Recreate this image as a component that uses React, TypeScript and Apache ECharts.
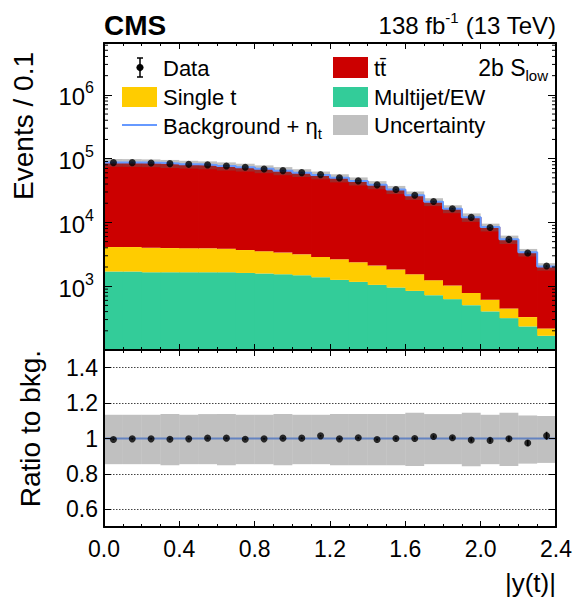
import React, { useEffect, useRef } from "react";
import * as echarts from "echarts";

// ---------- data ----------
const binEdges = [0, 0.1, 0.2, 0.3, 0.4, 0.5, 0.6, 0.7, 0.8, 0.9, 1.0, 1.1, 1.2, 1.3, 1.4, 1.5, 1.6, 1.7, 1.8, 1.9, 2.0, 2.1, 2.2, 2.3, 2.4];
const dataCounts = [86600, 86600, 85700, 83500, 81400, 79800, 76900, 73100, 69000, 64900, 60400, 56200, 49900, 44800, 38800, 32800, 26700, 21300, 16400, 12000, 8350, 5420, 3310, 2070];
const ttbar = [82990, 82660, 81870, 79880, 77620, 75720, 72870, 69700, 65620, 61400, 57120, 52500, 47360, 42250, 36930, 30980, 25160, 19830, 15300, 11320, 7830, 4980, 3070, 1820];
const singleTop = [2410, 2410, 2345, 2305, 2285, 2270, 2225, 2076, 1947, 1825, 1674, 1487, 1386, 1202, 1055, 867, 695, 518, 399, 280, 208, 132, 94, 51];
const multijetEW = [1700, 1700, 1655, 1655, 1655, 1655, 1655, 1614, 1578, 1540, 1486, 1383, 1256, 1169, 1049, 953, 845, 723, 627, 505, 403, 316, 234, 167];
const uncUp = [0.134, 0.134, 0.134, 0.138, 0.134, 0.138, 0.138, 0.134, 0.134, 0.138, 0.134, 0.134, 0.138, 0.138, 0.138, 0.138, 0.145, 0.138, 0.138, 0.145, 0.134, 0.145, 0.13, 0.127];
const uncDown = [0.145, 0.145, 0.145, 0.151, 0.145, 0.145, 0.151, 0.145, 0.145, 0.151, 0.145, 0.145, 0.151, 0.151, 0.151, 0.151, 0.155, 0.145, 0.145, 0.157, 0.145, 0.155, 0.142, 0.138];
const xTickLabels = ["0.0", "0.4", "0.8", "1.2", "1.6", "2.0", "2.4"];
const logMinorMultipliers = [2, 3, 4, 5, 6, 7, 8, 9];
const logDecades = [100, 1000, 10000, 100000, 1000000];

const FONT = '"Liberation Sans", Arial, Helvetica, sans-serif';
const X_MIN = 0;
const X_MAX = 2.4;
const Y_MIN = 100;
const Y_MAX = 6.5e6;
const C_TT = "#cc0000";
const C_ST = "#ffcc00";
const C_MJ = "#33cc99";
const C_LINE = "#6699ff";
const C_BAND = "rgba(98,98,98,0.4)";

function rectItem(fill: string, overlap: number) {
  return (_params: any, api: any) => {
    const a = api.coord([api.value(0), api.value(3)]);
    const b = api.coord([api.value(1), api.value(2)]);
    return {
      type: "rect",
      shape: { x: a[0], y: a[1], width: b[0] - a[0] + overlap, height: b[1] - a[1] },
      style: { fill },
    };
  };
}

function errItem(_params: any, api: any) {
  const lo = api.coord([api.value(0), api.value(1)]);
  const hi = api.coord([api.value(0), api.value(2)]);
  return {
    type: "line",
    shape: { x1: lo[0], y1: lo[1], x2: hi[0], y2: hi[1] },
    style: { stroke: "#000", lineWidth: 1.6 },
  };
}

function minorTickItem(_params: any, api: any) {
  const l = api.coord([X_MIN, api.value(1)]);
  const r = api.coord([X_MAX, api.value(1)]);
  return {
    type: "group",
    children: [
      { type: "line", shape: { x1: l[0], y1: l[1], x2: l[0] + 4, y2: l[1] }, style: { stroke: "#000", lineWidth: 1 } },
      { type: "line", shape: { x1: r[0] - 4, y1: r[1], x2: r[0], y2: r[1] }, style: { stroke: "#000", lineWidth: 1 } },
    ],
  };
}

export default function App() {
  const ref = useRef<HTMLDivElement>(null);

  useEffect(() => {
    if (!ref.current) return;
    const chart = echarts.init(ref.current, null, { renderer: "svg" });
    const nb = dataCounts.length;
    const total = ttbar.map((v, i) => v + singleTop[i] + multijetEW[i]);
    const centers = binEdges.slice(0, nb).map((e, i) => (e + binEdges[i + 1]) / 2);

    const mjRows = multijetEW.map((v, i) => [binEdges[i], binEdges[i + 1], Y_MIN, v]);
    const stRows = singleTop.map((v, i) => [binEdges[i], binEdges[i + 1], multijetEW[i], multijetEW[i] + v]);
    const ttRows = ttbar.map((_v, i) => [binEdges[i], binEdges[i + 1], multijetEW[i] + singleTop[i], total[i]]);
    const bandRows = total.map((t, i) => [binEdges[i], binEdges[i + 1], t * (1 - uncDown[i]), t * (1 + uncUp[i])]);
    const lineMain = binEdges.map((e, i) => [e, total[Math.min(i, nb - 1)]]);
    const dataMain = centers.map((c, i) => [c, dataCounts[i]]);
    const errMain = centers.map((c, i) => [c, dataCounts[i] - Math.sqrt(dataCounts[i]), dataCounts[i] + Math.sqrt(dataCounts[i])]);

    const ratio = dataCounts.map((d, i) => d / total[i]);
    const ratioBand = total.map((_t, i) => [binEdges[i], binEdges[i + 1], 1 - uncDown[i], 1 + uncUp[i]]);
    const ratioLine = binEdges.map((e) => [e, 1]);
    const ratioPts = centers.map((c, i) => [c, ratio[i]]);
    const ratioErr = centers.map((c, i) => {
      const e = Math.sqrt(dataCounts[i]) / total[i];
      return [c, ratio[i] - e, ratio[i] + e];
    });

    const minorTicks: number[][] = [];
    logDecades.forEach((d) =>
      logMinorMultipliers.forEach((m) => {
        if (d * m < Y_MAX) minorTicks.push([X_MIN, d * m]);
      })
    );

    const tick = { color: "#000", width: 1 };
    const frameLine = { show: true, onZero: false, lineStyle: { color: "#000", width: 2 } };
    const xBase = (grid: number, pos: string, length: number) => ({
      gridIndex: grid,
      type: "value",
      min: X_MIN,
      max: X_MAX,
      interval: 0.4,
      position: pos,
      z: 10,
      axisLine: frameLine,
      axisTick: { show: true, inside: true, length, lineStyle: tick },
      minorTick: { show: true, splitNumber: 4, length: length / 2, lineStyle: tick },
      axisLabel: { show: false },
      splitLine: { show: false },
    });

    const option: any = {
      animation: false,
      textStyle: { fontFamily: FONT },
      grid: [
        { left: 104, top: 43, width: 452, height: 307 },
        { left: 104, top: 350, width: 452, height: 177 },
      ],
      xAxis: [
        xBase(0, "bottom", 6),
        xBase(0, "top", 6),
        {
          ...xBase(1, "bottom", 6),
          axisLabel: {
            show: true,
            color: "#000",
            fontSize: 23,
            fontFamily: FONT,
            margin: 10,
            formatter: (v: number) => xTickLabels[Math.round(v / 0.4)] ?? "",
          },
        },
        xBase(1, "top", 6),
      ],
      yAxis: [
        {
          gridIndex: 0,
          type: "log",
          logBase: 10,
          min: Y_MIN,
          max: Y_MAX,
          position: "left",
          z: 10,
          axisLine: frameLine,
          axisTick: { show: true, inside: true, length: 8, lineStyle: tick },
          splitLine: { show: false },
          axisLabel: {
            show: true,
            margin: 10,
            color: "#000",
            formatter: (v: number) => {
              const l = Math.log10(v);
              const e = Math.round(l);
              if (Math.abs(l - e) > 1e-6 || e < 3) return "";
              return "{b|10}{s|" + e + "}";
            },
            rich: {
              b: { fontSize: 24, fontFamily: FONT, color: "#000", lineHeight: 30, padding: [4, 0, 0, 0] },
              s: { fontSize: 16, fontFamily: FONT, color: "#000", verticalAlign: "top", lineHeight: 16 },
            },
          },
        },
        {
          gridIndex: 0,
          type: "log",
          logBase: 10,
          min: Y_MIN,
          max: Y_MAX,
          position: "right",
          z: 10,
          axisLine: frameLine,
          axisTick: { show: true, inside: true, length: 8, lineStyle: tick },
          splitLine: { show: false },
          axisLabel: { show: false },
        },
        {
          gridIndex: 1,
          type: "value",
          min: 0.5,
          max: 1.5,
          splitNumber: 5,
          position: "left",
          z: 10,
          axisLine: frameLine,
          axisTick: { show: true, inside: true, length: 7, lineStyle: tick },
          splitLine: { show: false },
          axisLabel: {
            show: true,
            showMinLabel: false,
            showMaxLabel: false,
            color: "#000",
            fontSize: 23,
            fontFamily: FONT,
            margin: 6,
          },
        },
        {
          gridIndex: 1,
          type: "value",
          min: 0.5,
          max: 1.5,
          splitNumber: 5,
          position: "right",
          z: 10,
          axisLine: frameLine,
          axisTick: { show: true, inside: true, length: 7, lineStyle: tick },
          splitLine: { show: false },
          axisLabel: { show: false },
        },
        {
          gridIndex: 1,
          type: "value",
          min: 0.5,
          max: 1.5,
          splitNumber: 5,
          position: "left",
          z: 0,
          axisLine: { show: false },
          axisTick: { show: false },
          axisLabel: { show: false },
          splitLine: { show: true, lineStyle: { color: "#444", type: [1.5, 1.5], width: 1 } },
        },
      ],
      series: [
        { name: "Multijet/EW", type: "custom", xAxisIndex: 0, yAxisIndex: 0, z: 2, clip: true, renderItem: rectItem(C_MJ, 0.8), encode: { x: [0, 1], y: [2, 3] }, data: mjRows },
        { name: "Single t", type: "custom", xAxisIndex: 0, yAxisIndex: 0, z: 2, clip: true, renderItem: rectItem(C_ST, 0.8), encode: { x: [0, 1], y: [2, 3] }, data: stRows },
        { name: "tt̄", type: "custom", xAxisIndex: 0, yAxisIndex: 0, z: 2, clip: true, renderItem: rectItem(C_TT, 0.8), encode: { x: [0, 1], y: [2, 3] }, data: ttRows },
        { name: "Uncertainty", type: "custom", xAxisIndex: 0, yAxisIndex: 0, z: 3, clip: true, renderItem: rectItem(C_BAND, 0), encode: { x: [0, 1], y: [2, 3] }, data: bandRows },
        { name: "Background + ηt", type: "line", xAxisIndex: 0, yAxisIndex: 0, z: 4, step: "end", showSymbol: false, symbol: "none", lineStyle: { color: C_LINE, width: 2 }, data: lineMain },
        { name: "Data err", type: "custom", xAxisIndex: 0, yAxisIndex: 0, z: 5, renderItem: errItem, encode: { x: 0, y: [1, 2] }, data: errMain },
        { name: "Data", type: "scatter", xAxisIndex: 0, yAxisIndex: 0, z: 6, symbol: "circle", symbolSize: 7, itemStyle: { color: "#000" }, data: dataMain },
        { name: "minor ticks", type: "custom", xAxisIndex: 0, yAxisIndex: 0, z: 11, renderItem: minorTickItem, encode: { x: 0, y: 1 }, data: minorTicks },

        { name: "Ratio line", type: "line", xAxisIndex: 2, yAxisIndex: 2, z: 2, step: "end", showSymbol: false, symbol: "none", lineStyle: { color: C_LINE, width: 2 }, data: ratioLine },
        { name: "Ratio band", type: "custom", xAxisIndex: 2, yAxisIndex: 2, z: 3, clip: true, renderItem: rectItem(C_BAND, 0), encode: { x: [0, 1], y: [2, 3] }, data: ratioBand },
        { name: "Ratio err", type: "custom", xAxisIndex: 2, yAxisIndex: 2, z: 5, renderItem: errItem, encode: { x: 0, y: [1, 2] }, data: ratioErr },
        { name: "Ratio", type: "scatter", xAxisIndex: 2, yAxisIndex: 2, z: 6, symbol: "circle", symbolSize: 7, itemStyle: { color: "#000" }, data: ratioPts },
      ],
      graphic: [
        { type: "text", x: 104, y: 25, style: { text: "CMS", fontSize: 28, fontWeight: "bold", fontFamily: FONT, fill: "#000", align: "left", verticalAlign: "middle" } },
        {
          type: "text",
          x: 556,
          y: 25,
          style: {
            text: "{a|138 fb}{s|-1}{a| (13 TeV)}",
            align: "right",
            verticalAlign: "middle",
            rich: {
              a: { fontSize: 24, fontFamily: FONT, fill: "#000", lineHeight: 30 },
              s: { fontSize: 15, fontFamily: FONT, fill: "#000", verticalAlign: "top", lineHeight: 15 },
            },
          },
        },
        {
          type: "text",
          x: 548,
          y: 68,
          style: {
            text: "{a|2b S}{b|low}",
            align: "right",
            verticalAlign: "middle",
            rich: {
              a: { fontSize: 23, fontFamily: FONT, fill: "#000", lineHeight: 30 },
              b: { fontSize: 15, fontFamily: FONT, fill: "#000", verticalAlign: "bottom", lineHeight: 15 },
            },
          },
        },
        // legend, left column
        { type: "line", shape: { x1: 140, y1: 58, x2: 140, y2: 77 }, style: { stroke: "#000", lineWidth: 1.5 } },
        { type: "line", shape: { x1: 137, y1: 58, x2: 143, y2: 58 }, style: { stroke: "#000", lineWidth: 1.5 } },
        { type: "line", shape: { x1: 137, y1: 77, x2: 143, y2: 77 }, style: { stroke: "#000", lineWidth: 1.5 } },
        { type: "circle", shape: { cx: 140, cy: 67.5, r: 3.6 }, style: { fill: "#000" } },
        { type: "text", x: 163, y: 68, style: { text: "Data", fontSize: 22, fontFamily: FONT, fill: "#000", verticalAlign: "middle" } },
        { type: "rect", shape: { x: 122, y: 87, width: 35, height: 20 }, style: { fill: C_ST } },
        { type: "text", x: 163, y: 97, style: { text: "Single t", fontSize: 22, fontFamily: FONT, fill: "#000", verticalAlign: "middle" } },
        { type: "line", shape: { x1: 122, y1: 125, x2: 157, y2: 125 }, style: { stroke: C_LINE, lineWidth: 2 } },
        {
          type: "text",
          x: 163,
          y: 126,
          style: {
            text: "{a|Background + η}{b|t}",
            verticalAlign: "middle",
            rich: {
              a: { fontSize: 22, fontFamily: FONT, fill: "#000", lineHeight: 30 },
              b: { fontSize: 15, fontFamily: FONT, fill: "#000", verticalAlign: "bottom", lineHeight: 14 },
            },
          },
        },
        // legend, right column
        { type: "rect", shape: { x: 333, y: 57, width: 35, height: 21 }, style: { fill: C_TT } },
        { type: "text", x: 374, y: 68, style: { text: "tt̄", fontSize: 22, fontFamily: FONT, fill: "#000", verticalAlign: "middle" } },
        { type: "rect", shape: { x: 333, y: 87, width: 35, height: 20 }, style: { fill: C_MJ } },
        { type: "text", x: 374, y: 97, style: { text: "Multijet/EW", fontSize: 22, fontFamily: FONT, fill: "#000", verticalAlign: "middle" } },
        { type: "rect", shape: { x: 333, y: 115, width: 35, height: 20 }, style: { fill: "#c0c0c0" } },
        { type: "text", x: 374, y: 125, style: { text: "Uncertainty", fontSize: 22, fontFamily: FONT, fill: "#000", verticalAlign: "middle" } },
        // axis titles
        { type: "text", x: 23, y: 52, rotation: Math.PI / 2, style: { text: "Events / 0.1", fontSize: 28, fontFamily: FONT, fill: "#000", align: "right", verticalAlign: "middle" } },
        { type: "text", x: 30, y: 350, rotation: Math.PI / 2, style: { text: "Ratio to bkg.", fontSize: 28, fontFamily: FONT, fill: "#000", align: "right", verticalAlign: "middle" } },
        { type: "text", x: 556, y: 583, style: { text: "|y(t)|", fontSize: 26, fontFamily: FONT, fill: "#000", align: "right", verticalAlign: "middle" } },
      ],
    };

    chart.setOption(option);
    return () => chart.dispose();
  }, []);

  return <div ref={ref} style={{ position: "absolute", left: 0, top: 0, width: 580, height: 604, background: "#fff" }} />;
}
